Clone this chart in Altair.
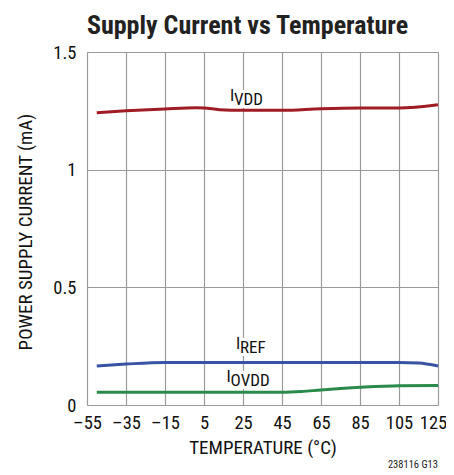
import altair as alt
import pandas as pd

# ---- data ----
temps_vdd = [-50, -35, -15, 1, 5, 13, 25, 45, 65, 85, 105, 125]
ivdd = [1.242, 1.250, 1.258, 1.263, 1.262, 1.255, 1.252, 1.252, 1.259, 1.262, 1.262, 1.276]

temps_ref = [-50, -35, -15, 5, 25, 45, 65, 85, 105, 115, 125]
iref = [0.166, 0.174, 0.181, 0.181, 0.181, 0.181, 0.181, 0.181, 0.181, 0.178, 0.166]

temps_ovdd = [-50, -35, -15, 5, 25, 45, 55, 65, 85, 105, 125]
iovdd = [0.054, 0.054, 0.054, 0.054, 0.054, 0.054, 0.057, 0.064, 0.075, 0.082, 0.083]

series_names = ["IVDD", "IREF", "IOVDD"]
series_colors = ["#a01c24", "#3953a4", "#2a8a4a"]

label_main = ["I", "I", "I"]
label_sub = ["VDD", "REF", "OVDD"]
label_t = [18.3, 21.4, 16.6]
label_i = [1.292, 0.238, 0.0965]

x_ticks = [-55, -35, -15, 5, 25, 45, 65, 85, 105, 125]
y_ticks = [0, 0.5, 1, 1.5]

FONT = "Roboto Condensed, sans-serif"

rows = []
for name, ts, vs in zip(series_names, [temps_vdd, temps_ref, temps_ovdd], [ivdd, iref, iovdd]):
    for t, v in zip(ts, vs):
        rows.append({"series": name, "T": t, "I": v})
df = pd.DataFrame(rows)

lab = pd.DataFrame({"series": series_names, "main": label_main, "sub": label_sub,
                    "T": label_t, "I": label_i})

W, H = 351, 353

xscale = alt.Scale(domain=[-55, 125], nice=False, zero=False)
yscale = alt.Scale(domain=[0, 1.5], nice=False)

xax = alt.Axis(values=x_ticks, tickCount=len(x_ticks), grid=True, gridColor="#9a9a9a",
               gridWidth=1.2, tickSize=0, domain=False, labelFont=FONT, labelFontSize=18.5,
               labelColor="#111", labelPadding=8, labelOverlap=False, labelFlush=False,
               labelOffset={"condition": {"test": f"datum.value == {x_ticks[-1]}", "value": -5},
                            "value": 0},
               labelExpr="datum.value < 0 ? '\u2013' + abs(datum.value) : datum.label",
               title="TEMPERATURE (\u00b0C)", titleFont=FONT, titleFontSize=19,
               titleFontWeight="normal", titleColor="#111",
               titleY=48, titleBaseline="alphabetic")
yax = alt.Axis(values=y_ticks, tickCount=len(y_ticks), grid=True, gridColor="#9a9a9a",
               gridWidth=1.2, tickSize=0, domain=False, format="~g", labelFont=FONT,
               labelFontSize=18.5, labelColor="#111", labelPadding=11, labelOverlap=False,
               labelFlush=False,
               title="POWER SUPPLY CURRENT (mA)", titleFont=FONT, titleFontSize=19,
               titleFontWeight="normal", titleColor="#111",
               titleX=-56, titleY=H / 2 + 3, titleAngle=-90, titleBaseline="alphabetic",
               titleAlign="center")

lines = alt.Chart(df).mark_line(strokeWidth=3, interpolate="monotone").encode(
    x=alt.X("T:Q", scale=xscale, axis=xax),
    y=alt.Y("I:Q", scale=yscale, axis=yax),
    color=alt.Color("series:N", scale=alt.Scale(domain=series_names, range=series_colors),
                    legend=None),
    detail="series:N",
)

base_lab = alt.Chart(lab).encode(x=alt.X("T:Q", scale=xscale, axis=xax),
                                 y=alt.Y("I:Q", scale=yscale, axis=yax))

halo_main = base_lab.mark_text(font=FONT, fontSize=17, align="left", baseline="alphabetic",
                               stroke="white", strokeWidth=6, color="white").encode(text="main:N")
halo_sub = base_lab.mark_text(font=FONT, fontSize=17, align="left", baseline="alphabetic",
                              dx=4, dy=4, stroke="white", strokeWidth=6,
                              color="white").encode(text="sub:N")
txt_main = base_lab.mark_text(font=FONT, fontSize=17, align="left", baseline="alphabetic",
                              color="#111").encode(text="main:N")
txt_sub = base_lab.mark_text(font=FONT, fontSize=17, align="left", baseline="alphabetic",
                             dx=4, dy=4, color="#111").encode(text="sub:N")

foot = alt.Chart(pd.DataFrame({"t": ["238116 G13"]})).mark_text(
    font=FONT, fontSize=10.5, align="right", baseline="alphabetic", color="#222"
).encode(x=alt.value(W), y=alt.value(H + 63), text="t:N")

chart = alt.layer(halo_main, halo_sub, lines, txt_main, txt_sub, foot).properties(
    width=W, height=H,
    title=alt.TitleParams("Supply Current vs Temperature", font=FONT, fontSize=26,
                          fontWeight="bold", color="#222", anchor="middle", dx=-15,
                          frame="group", offset=4),
    autosize=alt.AutoSizeParams(type="none"),
    padding={"left": 79, "top": 44, "right": 8, "bottom": 66},
).configure_view(stroke="#222222", strokeWidth=2).configure(background="white")

chart.save("out.html", embed_options={"renderer": "svg", "actions": False})
